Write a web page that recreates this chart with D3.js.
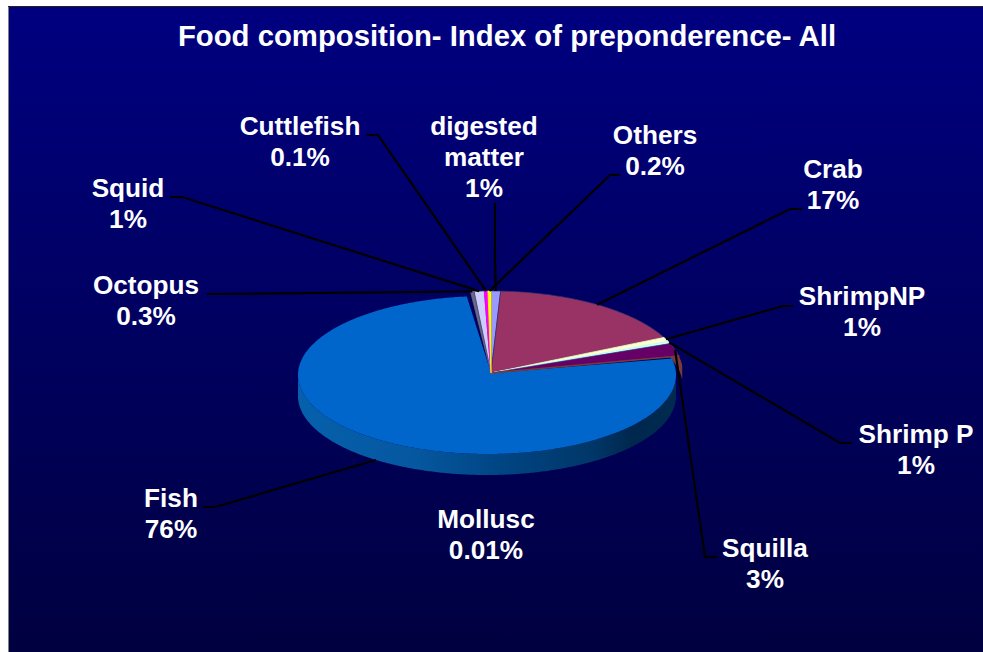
<!DOCTYPE html>
<html>
<head>
<meta charset="utf-8">
<script src="https://cdn.jsdelivr.net/npm/d3@7/dist/d3.min.js"></script>
<style>
html,body{margin:0;padding:0;background:#fff;overflow:hidden}
text{font-family:"Liberation Sans",Arial,sans-serif;font-weight:bold;fill:#fff}
</style>
</head>
<body>
<svg id="chart" width="983" height="652"></svg>
<script>
// ---- data (clockwise from the top of the pie) ----
const categories = ["digested matter","Crab","ShrimpNP","Shrimp P","Squilla","Mollusc","Fish","Octopus","Squid","Cuttlefish","Others"];
const percentLabels = ["1%","17%","1%","1%","3%","0.01%","76%","0.3%","1%","0.1%","0.2%"];
// shares as drawn
const sliceValues = [0.8,17,0.8,0.5,2.5,0.01,76.4,0.3,0.85,0.3,0.25];
const sliceColors = ["#9999FF","#993366","#FFFFCC","#CCFFFF","#660066","#7A3A3A","#0066CC","#686880","#CCCCFF","#FF00FF","#FFFF00"];
const titleText = "Food composition- Index of preponderence- All";

// ---- layout ----
const W = 983, H = 652;
const apex = {x:491, y:373};
const back = {cx:491, cy:373, rx:192, ry:82};   // ellipse of the small back/right slices
const front = {cx:487, cy:375, rx:189, ry:79};  // ellipse of the large front slice
const depth = 21, brownDepth = 14;
const fontSize = 26.2, lineGap = 31;
// label anchor (centre x, first baseline), leader elbow and leader end, per category
const labelLayout = {
  "digested matter":{x:484,y:135,lines:["digested","matter"],elbow:[495,260],end:[495,203]},
  "Crab":{x:833,y:178,elbow:[790,209],end:[802,209]},
  "ShrimpNP":{x:862,y:305,elbow:[783,306],end:[793,306]},
  "Shrimp P":{x:916,y:443,elbow:[840,443],end:[852,443]},
  "Squilla":{x:765,y:557,elbow:[705,557],end:[717,557]},
  "Mollusc":{x:486,y:528},
  "Fish":{x:171,y:507,elbow:[215,507],end:[203,507]},
  "Octopus":{x:146,y:294,elbow:[222,294],end:[207,294]},
  "Squid":{x:128,y:197,elbow:[182,197],end:[170,197]},
  "Cuttlefish":{x:300,y:135,elbow:[378,135],end:[366,135]},
  "Others":{x:655,y:144,elbow:[610,175],end:[620,175]}
};

const svg = d3.select("#chart");
const defs = svg.append("defs");
const bg = defs.append("linearGradient").attr("id","bg").attr("x1",0).attr("y1",0).attr("x2",0).attr("y2",1);
bg.append("stop").attr("offset","0%").attr("stop-color","#000080");
bg.append("stop").attr("offset","100%").attr("stop-color","#000040");
const sideG = defs.append("linearGradient").attr("id","side").attr("gradientUnits","userSpaceOnUse")
  .attr("x1",front.cx-front.rx).attr("y1",0).attr("x2",front.cx+front.rx).attr("y2",0);
[[0,"#0660AC"],[0.3,"#0558A0"],[0.55,"#004482"],[0.78,"#003768"],[0.88,"#00284F"],[1,"#002A50"]]
  .forEach(s=>sideG.append("stop").attr("offset",s[0]).attr("stop-color",s[1]));

// panel
svg.append("rect").attr("x",9).attr("y",7).attr("width",W-9).attr("height",H-7).attr("fill","url(#bg)");
svg.append("line").attr("x1",8.5).attr("x2",8.5).attr("y1",7).attr("y2",H).attr("stroke","#808080");
svg.append("line").attr("x1",8).attr("x2",W).attr("y1",6.5).attr("y2",6.5).attr("stroke","#222");

svg.append("text").attr("x",507).attr("y",46).attr("text-anchor","middle").attr("font-size",29.3).text(titleText);

// pie geometry via d3.pie, projected onto the tilted ellipse
const pie = d3.pie().sort(null).value(d=>d.value).startAngle(0).endAngle(2*Math.PI);
const slices = pie(categories.map((c,i)=>({name:c,value:sliceValues[i],color:sliceColors[i],pct:percentLabels[i]})));
const ell = d=>d.data.name==="Fish"?front:back;
const pt = (e,a,dy=0)=>[e.cx+e.rx*Math.sin(a), e.cy-e.ry*Math.cos(a)+dy];
const arcPts = (e,a0,a1,dy=0)=>{
  const n=Math.max(2,Math.ceil((a1-a0)/0.01));
  return d3.range(n+1).map(i=>pt(e,a0+(a1-a0)*i/n,dy));
};
const line = d3.line();

// side faces
const g = svg.append("g");
const squilla = slices.find(d=>d.data.name==="Squilla");
const brownSide = arcPts(back,squilla.startAngle,squilla.endAngle+0.12);
g.append("path")
  .attr("d",line(brownSide.concat(brownSide.slice().reverse().map(p=>[p[0],p[1]+brownDepth])))+"Z")
  .attr("fill","#7A3A3A");
const fish = slices.find(d=>d.data.name==="Fish");
const a0 = Math.max(fish.startAngle,Math.PI/2), a1 = Math.min(fish.endAngle,1.5*Math.PI);
const topEdge = arcPts(front,a0,a1);
const botEdge = arcPts(front,a0,a1,depth).reverse();
g.append("path").attr("d",line(topEdge.concat(botEdge))+"Z").attr("fill","url(#side)");

// top faces: fish first, then the small ones over it
const order = slices.slice().sort((a,b)=>(b.data.name==="Fish")-(a.data.name==="Fish"));
const ownStroke = ["Cuttlefish","Others","Mollusc","Octopus","ShrimpNP","Shrimp P"];
g.selectAll("path.slice").data(order).join("path").attr("class","slice")
  .attr("d",d=>line([[apex.x,apex.y]].concat(arcPts(ell(d),d.startAngle,d.endAngle)))+"Z")
  .attr("fill",d=>d.data.color)
  .attr("stroke",d=>d.data.name==="Fish"?"none":(ownStroke.includes(d.data.name)?d.data.color:"#33336A"))
  .attr("stroke-width",d=>ownStroke.includes(d.data.name)?(d.data.name==="Mollusc"?1.6:0.8):0.7)
  .attr("stroke-linejoin","round");

// leaders
const leaders = slices.filter(d=>labelLayout[d.data.name].elbow);
svg.append("g").selectAll("path").data(leaders).join("path")
  .attr("d",d=>{
    const L = labelLayout[d.data.name], mid=(d.startAngle+d.endAngle)/2;
    const front3d = d.data.name==="Fish";
    return line([pt(ell(d),mid,front3d?depth:0),L.elbow,L.end]);
  })
  .attr("fill","none").attr("stroke","#000").attr("stroke-width",2.2);

// labels
const lab = svg.append("g").selectAll("text").data(slices).join("text")
  .attr("text-anchor","middle").attr("font-size",fontSize)
  .attr("x",d=>labelLayout[d.data.name].x).attr("y",d=>labelLayout[d.data.name].y);
lab.each(function(d){
  const L = labelLayout[d.data.name];
  const rows = (L.lines||[d.data.name]).concat([d.data.pct]);
  d3.select(this).selectAll("tspan").data(rows).join("tspan")
    .attr("x",L.x).attr("dy",(r,i)=>i?lineGap:0).text(r=>r);
});
</script>
</body>
</html>
